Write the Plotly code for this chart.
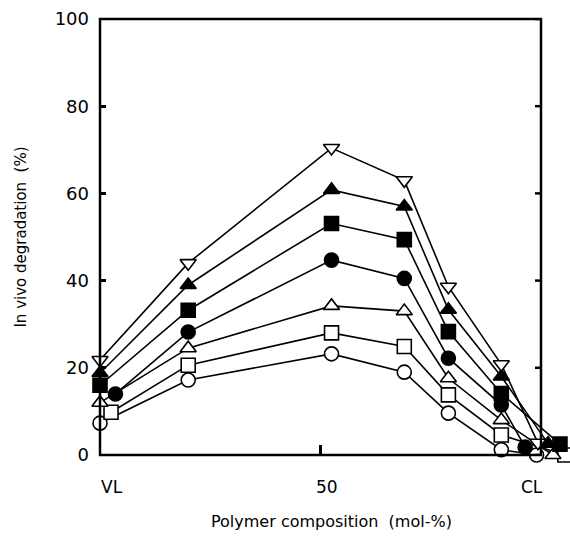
import plotly.graph_objects as go

# Polymer composition (mol-% CL), per series
x_open_circle   = [0.0, 20, 52.5, 69, 79, 91, 99.0]
x_open_square   = [2.5, 20, 52.5, 69, 79, 91, 105.4]
x_open_triangle = [0.0, 20, 52.5, 69, 79, 91, 102.7]
x_filled_circle = [3.5, 20, 52.5, 69, 79, 91, 96.4]
x_filled_square = [0.0, 20, 52.5, 69, 79, 91, 104.3]
x_filled_triangle = [0.0, 20, 52.5, 69, 79, 91, 101.6]
x_open_tri_down = [0.0, 20, 52.5, 69, 79, 91, 99.3]

# In vivo degradation (%)
y_open_circle   = [7.3, 17.2, 23.2, 19.0, 9.6, 1.2, 0.0]
y_open_square   = [9.8, 20.6, 28.0, 24.9, 13.8, 4.6, 0.0]
y_open_triangle = [12.0, 24.5, 34.2, 33.0, 17.6, 8.0, 0.0]
y_filled_circle = [14.0, 28.2, 44.7, 40.5, 22.2, 11.5, 1.8]
y_filled_square = [16.0, 33.2, 53.1, 49.4, 28.3, 14.1, 2.5]
y_filled_triangle = [18.8, 39.0, 60.8, 57.0, 33.3, 18.0, 2.6]
y_open_tri_down = [21.8, 44.0, 70.4, 63.0, 38.6, 20.8, 2.8]

x_min, x_max = 0, 100
y_min, y_max = 0, 100
x_tick_vals = [2.8, 51.5, 98.0]
x_tick_text = ["VL", "50", "CL"]
y_tick_vals = [0, 20, 40, 60, 80, 100]

series = [
    (x_open_circle, y_open_circle, "circle", "white"),
    (x_open_square, y_open_square, "square", "white"),
    (x_open_triangle, y_open_triangle, "triangle-up", "white"),
    (x_filled_circle, y_filled_circle, "circle", "black"),
    (x_filled_square, y_filled_square, "square", "black"),
    (x_filled_triangle, y_filled_triangle, "triangle-up", "black"),
    (x_open_tri_down, y_open_tri_down, "triangle-down", "white"),
]

W, H = 570, 544
ML, MR, MT, MB = 100, 2, 19, 89
plot_w = W - ML - MR
frame_w = 441
d = frame_w / plot_w          # paper fraction where x = 100 sits
tick_len = 6 / plot_w

fig = go.Figure()
for xs, ys, sym, fill in series:
    fig.add_trace(go.Scatter(
        x=xs, y=ys, mode="lines+markers",
        line=dict(color="black", width=1.6),
        marker=dict(symbol=sym, size=14, color=fill,
                    line=dict(color="black", width=1.6)),
        cliponaxis=False, showlegend=False,
    ))

# axis frame (paper coordinates, not clipped)
fig.add_shape(type="rect", xref="paper", yref="paper", x0=0, x1=d, y0=0, y1=1,
              line=dict(color="black", width=2.5), layer="above")
# right-hand inward ticks, from the y tick list
for yv in y_tick_vals:
    fig.add_shape(type="line", xref="paper", yref="y", x0=d, x1=d - tick_len,
                  y0=yv, y1=yv, line=dict(color="black", width=2.5), layer="above")

font_family = "DejaVu Sans"

for xv, txt in zip(x_tick_vals, x_tick_text):
    fig.add_annotation(x=xv, y=0, xref="x", yref="paper", text=txt,
                       showarrow=False, yshift=-32, yanchor="middle",
                       font=dict(family=font_family, size=17, color="black"))

fig.add_annotation(x=52.6, y=0, xref="x", yref="paper",
                   text="Polymer composition  (mol-%)",
                   showarrow=False, yshift=-66, yanchor="middle",
                   font=dict(family=font_family, size=16, color="black"))

fig.update_layout(
    xaxis=dict(
        range=[x_min, x_max / d], showgrid=False, zeroline=False, showline=False,
        tickvals=[50], ticks="inside", ticklen=10, tickwidth=2.5, tickcolor="black",
        showticklabels=False,
    ),
    yaxis=dict(
        range=[y_min, y_max], showgrid=False, zeroline=False, showline=False,
        tickvals=y_tick_vals, ticks="inside", ticklen=6, tickwidth=2.5, tickcolor="black",
        tickfont=dict(family=font_family, size=18, color="black"),
        ticklabelstandoff=10,
        title=dict(text="In vivo degradation  (%)", standoff=24,
                   font=dict(family=font_family, size=15, color="black")),
    ),
    width=W, height=H,
    margin=dict(l=ML, r=MR, t=MT, b=MB),
    paper_bgcolor="white", plot_bgcolor="white",
)
fig.write_html("out.html")
